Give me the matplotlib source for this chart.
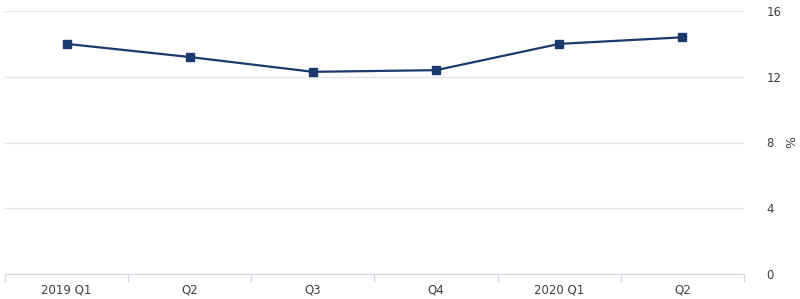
import numpy as np
import matplotlib.pyplot as plt

quarters = ['2019 Q1', 'Q2', 'Q3', 'Q4', '2020 Q1', 'Q2']
values = [14.0, 13.2, 12.3, 12.4, 14.0, 14.4]

fig = plt.figure(figsize=(8, 2.99), dpi=100)
ax = fig.add_axes([5 / 800, 1 - 274 / 299, 739 / 800, 263 / 299])

x = np.arange(len(quarters))
ax.plot(x, values, color='#1b3a6e', lw=1.6, marker='s', ms=6,
        markerfacecolor='#1b3a6e', markeredgecolor='#1b3a6e', zorder=3)

ax.set_xlim(-0.5, len(quarters) - 0.5)
ax.set_ylim(0, 16)
ax.set_yticks([0, 4, 8, 12, 16])
ax.yaxis.tick_right()
ax.tick_params(axis='y', length=0, pad=16, labelsize=8.5, labelcolor='#404040')
ax.grid(axis='y', color='#e4e4e4', lw=1)

# "%" axis title on the right, rotated
fig.text(788 / 800, 1 - 142 / 299, '%', rotation=270, color='#404040',
         fontsize=9, ha='center', va='center')

ax.set_xticks(x)
ax.set_xticklabels(quarters)
ax.set_xticks(np.arange(-0.5, len(quarters)), minor=True)
ax.tick_params(axis='x', which='major', length=0, pad=7, labelsize=8.5, labelcolor='#404040')
ax.tick_params(axis='x', which='minor', length=6, color='#d5d9e6', width=1, direction='out')

for s in ['top', 'left', 'right']:
    ax.spines[s].set_visible(False)
ax.spines['bottom'].set_color('#d5d9e6')

fig.savefig('out.png', dpi=100)
